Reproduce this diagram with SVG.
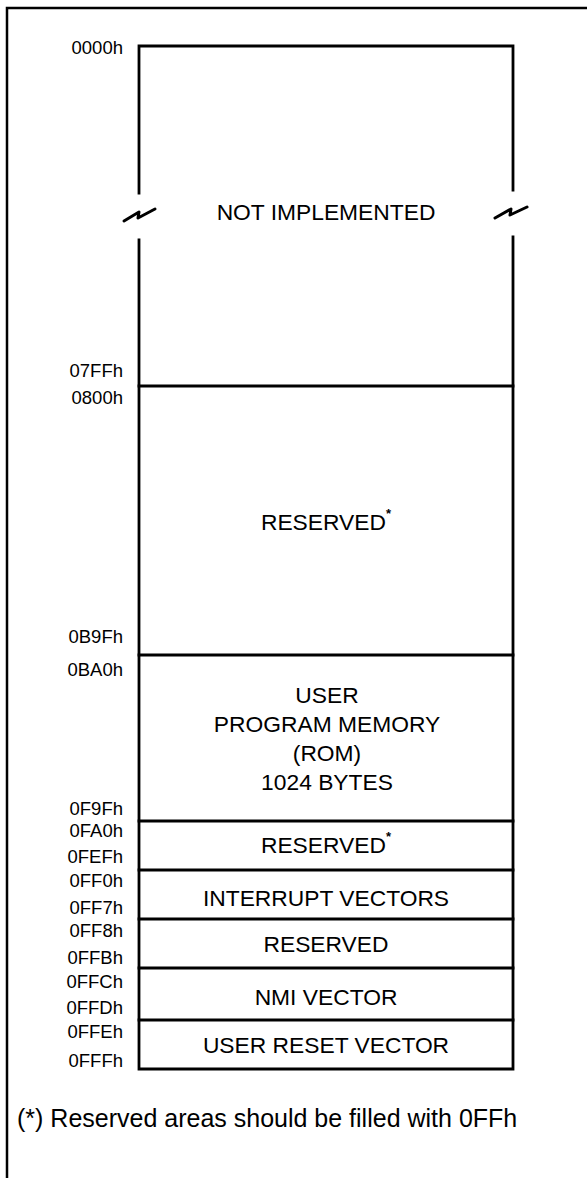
<svg xmlns="http://www.w3.org/2000/svg" width="587" height="1178" viewBox="0 0 587 1178">
<style>
.frame{stroke:#000;stroke-width:2.5;fill:none}
.box{stroke:#000;stroke-width:2.8;fill:none;stroke-linecap:square}
.brk{stroke:#000;stroke-width:3;fill:none;stroke-linejoin:round;stroke-linecap:round}
.lbl{font-family:"Liberation Sans",Arial,sans-serif;font-size:18.5px;text-anchor:end;fill:#000}
.txt{font-family:"Liberation Sans",Arial,sans-serif;font-size:22.8px;text-anchor:middle;fill:#000}
.sup{font-size:13px;font-weight:bold}
.note{font-family:"Liberation Sans",Arial,sans-serif;font-size:25px;fill:#000}
</style>
<rect width="587" height="1178" fill="#fff"/>
<g id="frame">
<path class="frame" d="M7,1178 V8 H587"/>
</g>
<g id="connectors">
<path class="box" d="M139,193 V46 H513 V190"/>
<path class="box" d="M139,240 V1069 H513 V237"/>
<path class="brk" d="M124,221 L139,212 L138,218 L155,209"/>
<path class="brk" d="M495,218 L511,209 L510,215 L527,207"/>
<line class="box" x1="139" y1="386" x2="513" y2="386"/>
<line class="box" x1="139" y1="655" x2="513" y2="655"/>
<line class="box" x1="139" y1="821" x2="513" y2="821"/>
<line class="box" x1="139" y1="870" x2="513" y2="870"/>
<line class="box" x1="139" y1="919" x2="513" y2="919"/>
<line class="box" x1="139" y1="968" x2="513" y2="968"/>
<line class="box" x1="139" y1="1020" x2="513" y2="1020"/>
</g>
<g id="not-implemented">
<text class="lbl" x="123" y="54">0000h</text>
<text class="txt" x="326" y="220">NOT IMPLEMENTED</text>
<text class="lbl" x="123" y="377">07FFh</text>
</g>
<g id="reserved1">
<text class="lbl" x="123" y="404">0800h</text>
<text class="txt" x="326" y="530">RESERVED<tspan class="sup" dy="-12">*</tspan></text>
<text class="lbl" x="123" y="643">0B9Fh</text>
</g>
<g id="user-program-memory">
<text class="lbl" x="123" y="676">0BA0h</text>
<text class="txt" x="327" y="703">USER</text>
<text class="txt" x="327" y="732">PROGRAM MEMORY</text>
<text class="txt" x="327" y="761">(ROM)</text>
<text class="txt" x="327" y="790">1024 BYTES</text>
<text class="lbl" x="123" y="815">0F9Fh</text>
</g>
<g id="reserved2">
<text class="lbl" x="123" y="837">0FA0h</text>
<text class="txt" x="326" y="853">RESERVED<tspan class="sup" dy="-12">*</tspan></text>
<text class="lbl" x="123" y="863">0FEFh</text>
</g>
<g id="interrupt-vectors">
<text class="lbl" x="123" y="887">0FF0h</text>
<text class="txt" x="326" y="906">INTERRUPT VECTORS</text>
<text class="lbl" x="123" y="914">0FF7h</text>
</g>
<g id="reserved3">
<text class="lbl" x="123" y="937">0FF8h</text>
<text class="txt" x="326" y="952">RESERVED</text>
<text class="lbl" x="123" y="964">0FFBh</text>
</g>
<g id="nmi-vector">
<text class="lbl" x="123" y="988">0FFCh</text>
<text class="txt" x="326" y="1005">NMI VECTOR</text>
<text class="lbl" x="123" y="1014">0FFDh</text>
</g>
<g id="user-reset-vector">
<text class="lbl" x="123" y="1038">0FFEh</text>
<text class="txt" x="326" y="1053">USER RESET VECTOR</text>
<text class="lbl" x="123" y="1067">0FFFh</text>
</g>
<g id="footnote">
<text class="note" x="17" y="1127">(*) Reserved areas should be filled with 0FFh</text>
</g>
</svg>
